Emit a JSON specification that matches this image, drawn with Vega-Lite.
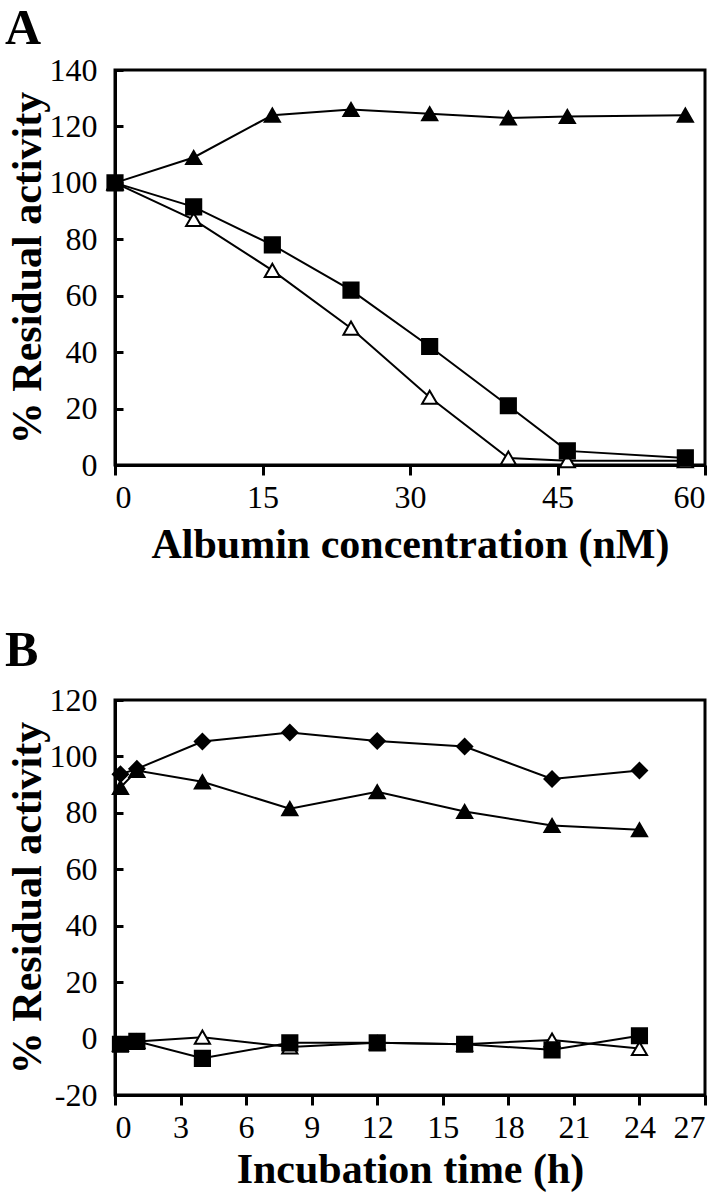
{
  "$schema": "https://vega.github.io/schema/vega-lite/v6.json",
  "background": "white",
  "padding": {"left": 3, "top": 2, "right": 5, "bottom": 0},
  "spacing": 57,
  "config": {
    "font": "Liberation Serif",
    "view": {"stroke": "black", "strokeWidth": 3},
    "axis": {
      "grid": false,
      "domainColor": "black",
      "domainWidth": 3,
      "tickColor": "black",
      "tickWidth": 3,
      "tickSize": 10,
      "labelFont": "Liberation Serif",
      "labelFontSize": 32,
      "labelColor": "black",
      "titleFont": "Liberation Serif",
      "titleFontWeight": "bold",
      "titleFontSize": 42,
      "titleColor": "black"
    },
    "axisY": {"tickSize": -8, "labelPadding": 26, "titlePadding": 0, "titleFontSize": 42},
    "axisX": {"labelPadding": 7},
    "title": {"font": "Liberation Serif", "fontWeight": "bold", "fontSize": 50, "color": "black", "anchor": "start", "frame": "group"}
  },
  "datasets": {
    "a": [
      {"series": "open triangles", "x": 0, "y": 100},
      {"series": "open triangles", "x": 8, "y": 87},
      {"series": "open triangles", "x": 16, "y": 69},
      {"series": "open triangles", "x": 24, "y": 48.5},
      {"series": "open triangles", "x": 32, "y": 24},
      {"series": "open triangles", "x": 40, "y": 2.5},
      {"series": "open triangles", "x": 46, "y": 1.5},
      {"series": "open triangles", "x": 58, "y": 1.5},
      {"series": "filled triangles", "x": 0, "y": 100},
      {"series": "filled triangles", "x": 8, "y": 109},
      {"series": "filled triangles", "x": 16, "y": 124},
      {"series": "filled triangles", "x": 24, "y": 126},
      {"series": "filled triangles", "x": 32, "y": 124.5},
      {"series": "filled triangles", "x": 40, "y": 123},
      {"series": "filled triangles", "x": 46, "y": 123.5},
      {"series": "filled triangles", "x": 58, "y": 124},
      {"series": "squares", "x": 0, "y": 100},
      {"series": "squares", "x": 8, "y": 91.5},
      {"series": "squares", "x": 16, "y": 78},
      {"series": "squares", "x": 24, "y": 62},
      {"series": "squares", "x": 32, "y": 42},
      {"series": "squares", "x": 40, "y": 21},
      {"series": "squares", "x": 46, "y": 5},
      {"series": "squares", "x": 58, "y": 2.5}
    ],
    "b": [
      {"series": "diamonds", "x": 0.25, "y": 93.7},
      {"series": "diamonds", "x": 1, "y": 95.6},
      {"series": "diamonds", "x": 4, "y": 105.3},
      {"series": "diamonds", "x": 8, "y": 108.5},
      {"series": "diamonds", "x": 12, "y": 105.5},
      {"series": "diamonds", "x": 16, "y": 103.5},
      {"series": "diamonds", "x": 20, "y": 92},
      {"series": "diamonds", "x": 24, "y": 95},
      {"series": "filled triangles", "x": 0.25, "y": 89},
      {"series": "filled triangles", "x": 1, "y": 95},
      {"series": "filled triangles", "x": 4, "y": 91},
      {"series": "filled triangles", "x": 8, "y": 81.5},
      {"series": "filled triangles", "x": 12, "y": 87.5},
      {"series": "filled triangles", "x": 16, "y": 80.5},
      {"series": "filled triangles", "x": 20, "y": 75.5},
      {"series": "filled triangles", "x": 24, "y": 74},
      {"series": "open triangles", "x": 0.25, "y": -2},
      {"series": "open triangles", "x": 1, "y": -1},
      {"series": "open triangles", "x": 4, "y": 0.5},
      {"series": "open triangles", "x": 8, "y": -3},
      {"series": "open triangles", "x": 12, "y": -1.5},
      {"series": "open triangles", "x": 16, "y": -2},
      {"series": "open triangles", "x": 20, "y": -0.5},
      {"series": "open triangles", "x": 24, "y": -3.5},
      {"series": "squares", "x": 0.25, "y": -2},
      {"series": "squares", "x": 1, "y": -1},
      {"series": "squares", "x": 4, "y": -7},
      {"series": "squares", "x": 8, "y": -1.5},
      {"series": "squares", "x": 12, "y": -1.5},
      {"series": "squares", "x": 16, "y": -2},
      {"series": "squares", "x": 20, "y": -4},
      {"series": "squares", "x": 24, "y": 1}
    ]
  },
  "vconcat": [
    {
      "title": {"text": "A", "dx": -110, "offset": 0},
      "width": 590,
      "height": 395,
      "data": {"name": "a"},
      "layer": [
        {
          "mark": {"type": "line", "color": "black", "strokeWidth": 2},
          "encoding": {
            "x": {"field": "x", "type": "quantitative", "scale": {"domain": [0, 60], "nice": false}, "axis": {"values": [0, 15, 30, 45, 60], "title": "Albumin concentration (nM)", "titlePadding": 11}},
            "y": {"field": "y", "type": "quantitative", "scale": {"domain": [0, 140], "nice": false}, "axis": {"values": [0, 20, 40, 60, 80, 100, 120, 140], "title": "% Residual activity"}},
            "detail": {"field": "series"}
          }
        },
        {
          "mark": {"type": "point", "filled": false, "stroke": "black", "strokeWidth": 2, "opacity": 1},
          "encoding": {
            "x": {"field": "x", "type": "quantitative"},
            "y": {"field": "y", "type": "quantitative"},
            "shape": {"field": "series", "type": "nominal", "scale": {"domain": ["filled triangles", "squares", "open triangles", "diamonds"], "range": ["triangle-up", "square", "triangle-up", "diamond"]}, "legend": null},
            "fill": {"field": "series", "type": "nominal", "scale": {"domain": ["filled triangles", "squares", "open triangles", "diamonds"], "range": ["black", "black", "white", "black"]}, "legend": null},
            "size": {"value": 230}
          }
        }
      ]
    },
    {
      "title": {"text": "B", "dx": -110, "offset": 8},
      "width": 590,
      "height": 395,
      "data": {"name": "b"},
      "layer": [
        {
          "mark": {"type": "line", "color": "black", "strokeWidth": 2},
          "encoding": {
            "x": {"field": "x", "type": "quantitative", "scale": {"domain": [0, 27], "nice": false}, "axis": {"values": [0, 3, 6, 9, 12, 15, 18, 21, 24, 27], "title": "Incubation time (h)", "titlePadding": 6}},
            "y": {"field": "y", "type": "quantitative", "scale": {"domain": [-20, 120], "nice": false}, "axis": {"values": [-20, 0, 20, 40, 60, 80, 100, 120], "labelExpr": "toString(datum.value)", "title": "% Residual activity"}},
            "detail": {"field": "series"}
          }
        },
        {
          "mark": {"type": "point", "filled": false, "stroke": "black", "strokeWidth": 2, "opacity": 1},
          "encoding": {
            "x": {"field": "x", "type": "quantitative"},
            "y": {"field": "y", "type": "quantitative"},
            "shape": {"field": "series", "type": "nominal", "scale": {"domain": ["filled triangles", "squares", "open triangles", "diamonds"], "range": ["triangle-up", "square", "triangle-up", "diamond"]}, "legend": null},
            "fill": {"field": "series", "type": "nominal", "scale": {"domain": ["filled triangles", "squares", "open triangles", "diamonds"], "range": ["black", "black", "white", "black"]}, "legend": null},
            "size": {"value": 230}
          }
        }
      ]
    }
  ]
}
